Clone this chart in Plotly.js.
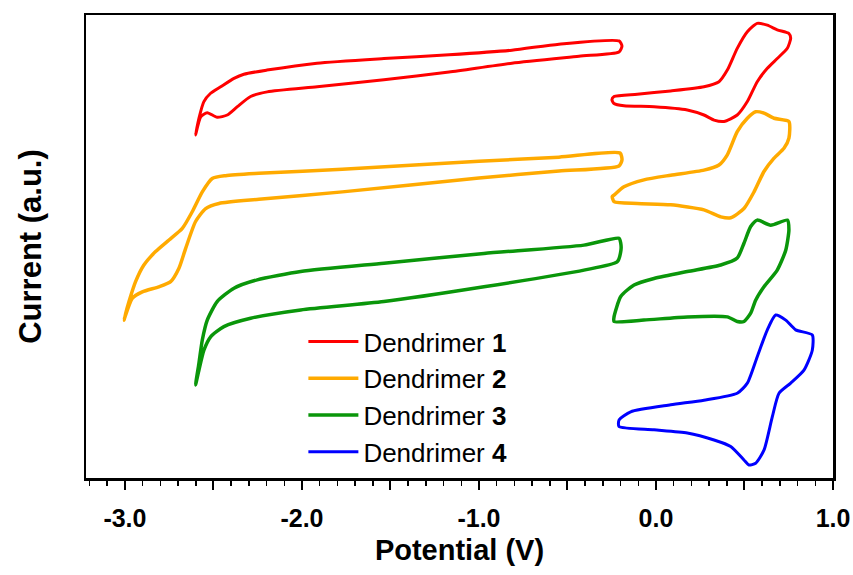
<!DOCTYPE html>
<html>
<head>
<meta charset="utf-8">
<script src="https://cdn.plot.ly/plotly-3.0.1.min.js"></script>
<style>html,body{margin:0;padding:0;background:#fff;}#chart{width:853px;height:575px;}</style>
</head>
<body>
<div id="chart"></div>
<script>
// Potential (V) and current (a.u.), two loops per dendrimer (null separates loops)
const d1_potential = [-0.209,-0.548,-0.814,-1.169,-1.537,-1.915,-2.198,-2.328,-2.384,-2.459,-2.516,-2.554,-2.582,-2.601,-2.572,-2.535,-2.479,-2.422,-2.365,-2.290,-2.196,-1.914,-1.537,-1.169,-0.814,-0.435,-0.209,-0.192,-0.209,
  null,
  -0.237,-0.106,0.083,0.271,0.356,0.403,0.459,0.516,0.572,0.629,0.685,0.751,0.761,0.742,0.685,0.629,0.572,0.516,0.459,0.384,0.328,0.271,0.177,-0.011,-0.181,-0.237,-0.249,-0.237];
const d1_current = [94.4,93.7,92.4,91.4,90.6,89.6,88.1,87.2,86.3,84.5,83.1,81.3,77.7,74.1,78.0,78.9,77.9,78.4,80.2,82.4,83.4,84.5,86.0,87.7,89.6,91.1,92.0,93.3,94.4,
  null,
  82.4,82.9,83.6,84.5,85.6,88.1,92.8,96.4,98.2,97.8,96.8,96.0,95.0,92.8,90.6,88.5,85.6,81.3,78.4,77.0,77.3,78.4,79.5,80.2,80.4,80.9,81.7,82.4];

const d2_potential = [-0.203,-0.548,-1.000,-1.772,-2.243,-2.431,-2.507,-2.563,-2.620,-2.676,-2.751,-2.827,-2.893,-2.940,-2.977,-3.006,-2.959,-2.902,-2.808,-2.742,-2.695,-2.657,-2.601,-2.544,-2.469,-2.243,-1.772,-1.000,-0.548,-0.209,-0.192,-0.203,
  null,
  -0.237,-0.181,-0.068,0.083,0.271,0.356,0.403,0.459,0.516,0.563,0.610,0.667,0.751,0.751,0.723,0.667,0.610,0.554,0.497,0.422,0.366,0.271,0.083,-0.106,-0.237,-0.247,-0.237];
const d2_current = [70.2,69.3,68.4,66.7,65.8,65.3,64.7,61.8,57.5,53.9,51.4,48.9,46.0,42.4,38.1,34.1,38.8,40.2,41.3,42.4,45.3,49.6,55.4,58.2,59.3,60.2,61.8,64.8,66.3,67.4,68.7,70.2,
  null,
  61.1,62.9,64.4,65.4,66.5,67.6,69.8,74.8,77.7,79.1,78.8,77.7,77.0,73.4,71.2,69.1,66.2,61.8,58.2,56.2,56.4,57.9,59.0,59.3,59.7,60.8,61.1];

const d3_potential = [-0.209,-0.407,-0.972,-1.537,-2.007,-2.253,-2.384,-2.479,-2.535,-2.563,-2.582,-2.601,-2.582,-2.554,-2.516,-2.441,-2.290,-2.007,-1.537,-0.972,-0.407,-0.219,-0.198,-0.199,-0.209,
  null,
  -0.237,-0.199,-0.124,-0.011,0.177,0.366,0.459,0.497,0.535,0.572,0.648,0.742,0.751,0.733,0.685,0.610,0.563,0.535,0.497,0.459,0.403,0.177,-0.068,-0.237,-0.237];
const d3_current = [51.8,50.3,48.5,46.4,44.6,42.8,41.0,38.1,34.1,29.8,24.8,20.1,23.3,27.6,30.5,32.7,34.5,36.3,38.1,41.3,44.9,46.7,49.2,50.7,51.8,
  null,
  34.8,39.2,41.7,43.1,44.6,46.0,47.5,50.7,54.3,55.7,54.6,55.7,53.6,49.2,44.9,41.3,38.4,35.6,33.8,33.8,34.8,34.8,34.1,33.8,34.8];

const d4_potential = [-0.209,-0.143,0.083,0.271,0.459,0.516,0.572,0.629,0.676,0.733,0.789,0.883,0.883,0.836,0.761,0.695,0.657,0.610,0.563,0.525,0.497,0.422,0.328,0.177,-0.011,-0.209,-0.209];
const d4_current = [12.5,14.3,15.8,16.8,18.3,20.5,26.2,32.0,35.2,34.1,32.0,30.9,27.6,23.3,20.5,18.3,13.2,6.0,3.2,2.8,3.9,6.8,8.2,9.7,10.4,11.1,12.5];

const seriesNames = ['Dendrimer <b>1</b>','Dendrimer <b>2</b>','Dendrimer <b>3</b>','Dendrimer <b>4</b>'];
const seriesColors = ['#ff0000','#ffaa00','#0a960a','#0000ff'];
const xTickVals = [-3.0,-2.5,-2.0,-1.5,-1.0,-0.5,0.0,0.5,1.0];
const xTickText = ['-3.0','','-2.0','','-1.0','','0.0','','1.0'];

const xs = [d1_potential,d2_potential,d3_potential,d4_potential];
const ys = [d1_current,d2_current,d3_current,d4_current];
const widths = [3,3.5,3.5,3];

const traces = xs.map((x,i)=>({
  x: x, y: ys[i], type:'scatter', mode:'lines', name: seriesNames[i],
  legendgroup: 'g'+i, connectgaps:false,
  line:{color: seriesColors[i], width: widths[i], shape:'spline', smoothing:0.6}
}));

const FONT = 'Liberation Sans, Arial, sans-serif';
const layout = {
  width:853, height:575,
  margin:{l:86, r:20, t:15, b:97},
  paper_bgcolor:'#fff', plot_bgcolor:'#fff',
  showlegend:true,
  legend:{x:0.291, y:0.3456, xanchor:'left', yanchor:'top', bgcolor:'rgba(0,0,0,0)',
    font:{family:FONT, size:26, color:'#000'}, traceorder:'grouped', tracegroupgap:0, itemwidth:50},
  xaxis:{range:[-3.22,1.0], showgrid:false, zeroline:false,
    showline:true, mirror:true, linecolor:'#000', linewidth:2.5,
    tickmode:'array', tickvals:xTickVals, ticktext:xTickText,
    ticks:'outside', ticklen:9, tickwidth:2, tickcolor:'#000', ticklabelstandoff:7,
    minor:{tickmode:'linear', tick0:0, dtick:0.1, ticks:'outside', ticklen:5, tickwidth:1.5, tickcolor:'#000', showgrid:false},
    tickfont:{family:FONT, size:25, color:'#000', weight:'bold'},
    title:{text:'<b>Potential (V)</b>', font:{family:FONT, size:29, color:'#000'}, standoff:9}},
  yaxis:{range:[0,100], showgrid:false, zeroline:false,
    showline:true, mirror:true, linecolor:'#000', linewidth:2.5,
    ticks:'', showticklabels:false,
    title:{text:'<b>Current (a.u.)</b>', font:{family:FONT, size:31, color:'#000'}, standoff:33}}
};

Plotly.newPlot('chart', traces, layout, {staticPlot:true, displayModeBar:false});
</script>
</body>
</html>
